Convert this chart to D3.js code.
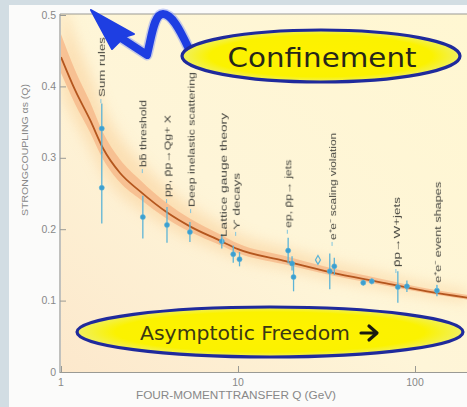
<!DOCTYPE html>
<html><head><meta charset="utf-8">
<script src="https://cdn.jsdelivr.net/npm/d3@7"></script>
<style>
html,body{margin:0;padding:0;background:#d2dde3;}
svg{display:block;}
</style></head>
<body>
<svg id="chart" width="467" height="407"></svg>
<script>
// ---------- data ----------
const curveQ     = [1, 1.2, 1.46, 1.73, 2.15, 2.8, 4.0, 5.35, 7.9, 10, 18, 33, 63, 117, 200];
const curveAlpha = [0.441, 0.395, 0.353, 0.313, 0.279, 0.253, 0.223, 0.204, 0.184, 0.172, 0.156, 0.140, 0.126, 0.113, 0.104];
const bandHalf   = [0.032, 0.028, 0.025, 0.022, 0.019, 0.016, 0.013, 0.011, 0.009, 0.008, 0.007, 0.006, 0.005, 0.004, 0.004];

const pointQ     = [1.70, 1.70, 2.90, 3.97, 5.35, 8.1, 9.4, 10.2, 19.2, 20.2, 20.6, 28.3, 33.0, 35.0, 51, 57, 80, 90, 133];
const pointAlpha = [0.341, 0.258, 0.217, 0.206, 0.196, 0.183, 0.165, 0.158, 0.170, 0.152, 0.133, 0.157, 0.141, 0.148, 0.125, 0.127, 0.119, 0.120, 0.114];
const pointErr   = [0.035, 0.050, 0.030, 0.025, 0.014, 0.010, 0.012, 0.010, 0.018, 0.010, 0.020, 0.000, 0.025, 0.012, 0.004, 0.004, 0.022, 0.008, 0.008];

const labelText  = ["Sum rules", "bb\u0304 threshold", "pp, p\u0304p\u2192Qg+ X", "Deep inelastic scattering",
                    "Lattice gauge theory", "\u03D2 decays", "ep, p\u0304p\u2192 jets", "e\u207Ae\u207B scaling violation",
                    "p\u0304p\u2192W+jets", "e\u207Ae\u207B event shapes"];
const labelQ     = [1.68, 2.88, 3.95, 5.4, 8.2, 9.7, 19.0, 34.0, 78, 133];
const labelBase  = [0.385, 0.287, 0.245, 0.231, 0.189, 0.199, 0.202, 0.185, 0.147, 0.125];
const labelLen   = [60, 67, 82, 135, 124, 57, 68, 107, 70, 101];

const yTicks = [0, 0.1, 0.2, 0.3, 0.4, 0.5];
const yTickLabels = ["0", "0.1", "0.2", "0.3", "0.4", "0.5"];
const xTicks = [1, 10, 100];
const xTickLabels = ["1", "10", "100"];

// ---------- scales ----------
const svg = d3.select("#chart");
const x = d3.scaleLog().domain([1, 200]).range([61, 61 + 177 * Math.log10(200)]);
const y = d3.scaleLinear().domain([0, 0.5]).range([372, 15]);

const defs = svg.append("defs");
const bg = defs.append("linearGradient").attr("id","bg").attr("x1","1").attr("y1","0").attr("x2","0").attr("y2","1");
bg.append("stop").attr("offset","0").attr("stop-color","#fff7d2");
bg.append("stop").attr("offset","0.55").attr("stop-color","#fef5d8");
bg.append("stop").attr("offset","1").attr("stop-color","#fce8cc");
const yel = defs.append("radialGradient").attr("id","yel").attr("cx","0.5").attr("cy","0.5").attr("r","0.5");
yel.append("stop").attr("offset","0").attr("stop-color","#fff200");
yel.append("stop").attr("offset","0.8").attr("stop-color","#fbf200");
yel.append("stop").attr("offset","1").attr("stop-color","#f0f060");
defs.append("filter").attr("id","blur1").append("feGaussianBlur").attr("stdDeviation","0.6");
defs.append("filter").attr("id","blur6").append("feGaussianBlur").attr("stdDeviation","7");
defs.append("clipPath").attr("id","plotclip").append("rect")
  .attr("x", 61).attr("y", 14).attr("width", 467 - 61).attr("height", 372 - 14);

// panel
svg.append("rect").attr("x",9).attr("y",5).attr("width",458).attr("height",402).attr("fill","#fbfbfa");
// plot background
svg.append("rect").attr("x",61).attr("y",14).attr("width",406).attr("height",358).attr("fill","url(#bg)");

const plot = svg.append("g").attr("clip-path","url(#plotclip)");

const curveData = curveQ.map((q,i)=>({q, a: curveAlpha[i], w: bandHalf[i]}));

// broad glow
plot.append("path").datum(curveData)
  .attr("d", d3.area().x(d=>x(d.q)).y0(d=>y(d.a - d.w*1.6)).y1(d=>y(d.a + d.w*2.6)).curve(d3.curveMonotoneX))
  .attr("fill","#fbd9a8").attr("opacity",0.75).attr("filter","url(#blur6)");
// band
plot.append("path").datum(curveData)
  .attr("d", d3.area().x(d=>x(d.q)).y0(d=>y(d.a - d.w*0.7)).y1(d=>y(d.a + d.w)).curve(d3.curveMonotoneX))
  .attr("fill","#f7b98a").attr("opacity",0.8).attr("filter","url(#blur1)");
// central curve
plot.append("path").datum(curveData)
  .attr("d", d3.line().x(d=>x(d.q)).y(d=>y(d.a)).curve(d3.curveMonotoneX))
  .attr("fill","none").attr("stroke","#b4561e").attr("stroke-width",1.8);

// data points
const pts = pointQ.map((q,i)=>({q, a: pointAlpha[i], e: pointErr[i]}));
const pg = plot.append("g").attr("filter","url(#blur1)");
pg.selectAll("line.err").data(pts.filter(d=>d.e>0)).join("line")
  .attr("x1",d=>x(d.q)).attr("x2",d=>x(d.q))
  .attr("y1",d=>y(d.a+d.e)).attr("y2",d=>y(d.a-d.e))
  .attr("stroke","#5db4d6").attr("stroke-width",1.3);
pg.selectAll("path.pt").data(pts).join("path")
  .attr("transform",d=>`translate(${x(d.q)},${y(d.a)})`)
  .attr("d", d=> d.e===0 ? d3.symbol(d3.symbolDiamond, 22)() : d3.symbol(d3.symbolCircle, 20)())
  .attr("fill",d=>d.e===0 ? "none" : "#3d9fd0")
  .attr("stroke","#5db4d6").attr("stroke-width",d=>d.e===0?1.2:0.6);

// rotated labels
const lg = plot.append("g");
labelText.forEach((t,i)=>{
  lg.append("text")
    .attr("transform",`translate(${x(labelQ[i])+4},${y(labelBase[i])}) rotate(-90)`)
    .attr("font-family","Liberation Sans, Arial, sans-serif").attr("font-size",9.5)
    .attr("fill","#44443e").attr("textLength",labelLen[i]).attr("lengthAdjust","spacingAndGlyphs")
    .attr("filter","url(#blur1)")
    .text(t);
});
lg.selectAll("line.con").data(labelQ).join("line")
  .attr("x1",d=>x(d)).attr("x2",d=>x(d))
  .attr("y1",(d,i)=>y(labelBase[i])+2).attr("y2",(d,i)=>y(labelBase[i])+6)
  .attr("stroke","#7fc4de").attr("stroke-width",1);

// frame & axes
const axCol = "#9a9a94";
svg.append("line").attr("x1",60).attr("x2",467).attr("y1",14).attr("y2",14).attr("stroke",axCol).attr("stroke-width",1.2);
svg.append("line").attr("x1",60).attr("x2",60).attr("y1",14).attr("y2",373).attr("stroke",axCol).attr("stroke-width",1.2);
svg.append("line").attr("x1",60).attr("x2",467).attr("y1",372.5).attr("y2",372.5).attr("stroke",axCol).attr("stroke-width",1.2);

const yAxis = d3.axisRight(y).tickValues(yTicks).tickSize(6).tickFormat(()=>"");
svg.append("g").attr("transform","translate(60,0)").call(yAxis)
  .call(g=>g.select(".domain").remove())
  .call(g=>g.selectAll("line").attr("stroke",axCol));
svg.append("g").selectAll("text").data(yTicks).join("text")
  .attr("x",56).attr("y",d=>y(d)+3.5).attr("text-anchor","end")
  .attr("font-family","Liberation Sans, Arial, sans-serif").attr("font-size",10.5).attr("fill","#888")
  .text((d,i)=>yTickLabels[i]);

const xAxis = d3.axisTop(x).tickValues(xTicks).tickSize(6).tickFormat(()=>"");
svg.append("g").attr("transform","translate(0,372)").call(xAxis)
  .call(g=>g.select(".domain").remove())
  .call(g=>g.selectAll("line").attr("stroke",axCol));
svg.append("g").selectAll("text").data(xTicks).join("text")
  .attr("x",d=>x(d)).attr("y",386).attr("text-anchor","middle")
  .attr("font-family","Liberation Sans, Arial, sans-serif").attr("font-size",10.5).attr("fill","#888")
  .text((d,i)=>xTickLabels[i]);

// axis titles
svg.append("text").attr("transform","translate(28,150) rotate(-90)").attr("text-anchor","middle")
  .attr("font-family","Liberation Sans, Arial, sans-serif").attr("font-size",9.5).attr("fill","#888")
  .attr("textLength",132).attr("lengthAdjust","spacingAndGlyphs")
  .text("STRONGCOUPLING    \u03B1s (Q)");
svg.append("text").attr("x",236).attr("y",399).attr("text-anchor","middle")
  .attr("font-family","Liberation Sans, Arial, sans-serif").attr("font-size",10).attr("fill","#888")
  .attr("textLength",200).attr("lengthAdjust","spacingAndGlyphs")
  .text("FOUR-MOMENTTRANSFER    Q (GeV)");

// Confinement annotation: zigzag arrow
const ann = svg.append("g");
const zig = "M188,47 C180,30 172,14 163,14 C154,14 152,35 147,55 L121,38";
ann.append("path").attr("d",zig).attr("fill","none").attr("stroke","#8a9cf4").attr("stroke-width",11)
  .attr("stroke-linejoin","round").attr("stroke-linecap","round").attr("opacity",0.5);
ann.append("path").attr("d",zig).attr("fill","none").attr("stroke","#1e3ee2").attr("stroke-width",8)
  .attr("stroke-linejoin","round").attr("stroke-linecap","round");
ann.append("path").attr("d","M91,10 L134,34 L124,37 L112,49 Z").attr("fill","#1e3ee2")
  .attr("stroke","#1e3ee2").attr("stroke-width",2).attr("stroke-linejoin","round");

ann.append("ellipse").attr("cx",321).attr("cy",56).attr("rx",139).attr("ry",26)
  .attr("fill","url(#yel)").attr("stroke","#1f2a9c").attr("stroke-width",3.2);
ann.append("text").attr("x",322).attr("y",67).attr("text-anchor","middle")
  .attr("font-family","DejaVu Sans, Verdana, sans-serif").attr("font-size",27).attr("fill","#26251a")
  .attr("textLength",189).attr("lengthAdjust","spacingAndGlyphs")
  .text("Confinement");

ann.append("ellipse").attr("cx",270).attr("cy",332).attr("rx",193).attr("ry",25)
  .attr("fill","url(#yel)").attr("stroke","#1f2a9c").attr("stroke-width",3.2);
ann.append("text").attr("x",140).attr("y",340).attr("text-anchor","start")
  .attr("font-family","DejaVu Sans, Verdana, sans-serif").attr("font-size",19).attr("fill","#3a3814")
  .attr("textLength",210).attr("lengthAdjust","spacingAndGlyphs")
  .text("Asymptotic Freedom");
// bold arrow after the text
ann.append("path").attr("d","M361,333 L375,333 M369,326 L377,333 L369,340")
  .attr("fill","none").attr("stroke","#1a1a10").attr("stroke-width",3.2)
  .attr("stroke-linecap","round").attr("stroke-linejoin","round");
</script>
</body></html>
